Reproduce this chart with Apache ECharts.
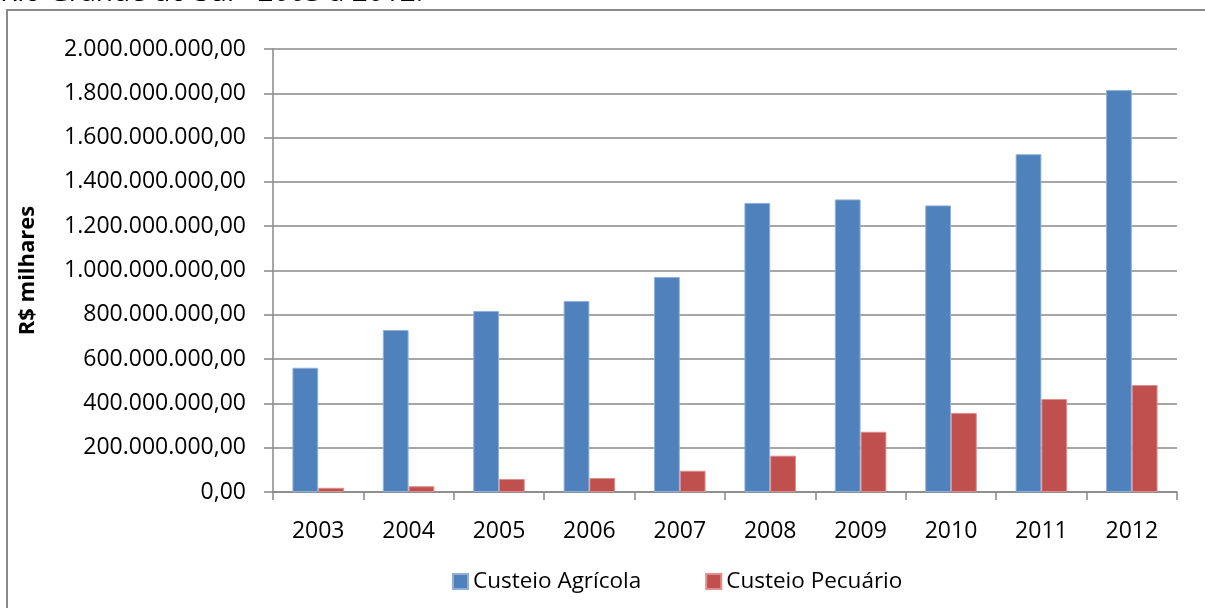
<!DOCTYPE html>
<html>
<head>
<meta charset="utf-8">
<script src="https://cdn.jsdelivr.net/npm/echarts@6/dist/echarts.min.js"></script>
<style>
  html, body { margin: 0; padding: 0; background: #fff; }
  #chart { width: 1205px; height: 608px; }
</style>
</head>
<body>
<div id="chart"></div>
<script>
const years = ['2003', '2004', '2005', '2006', '2007', '2008', '2009', '2010', '2011', '2012'];
const agricola = [561e6, 731e6, 817e6, 862e6, 971e6, 1305e6, 1321e6, 1294e6, 1525e6, 1815e6];
const pecuario = [19e6, 26e6, 59e6, 63e6, 96e6, 164e6, 272e6, 357e6, 420e6, 483e6];

const FONT = "'Open Sans', 'Noto Sans', sans-serif";

function brl(v) {
    const int = Math.round(v).toString().replace(/\B(?=(\d{3})+(?!\d))/g, '.');
    return int + ',00';
}

const chart = echarts.init(document.getElementById('chart'), null, { renderer: 'canvas' });
chart.setOption({
    backgroundColor: '#fff',
    animation: false,
    textStyle: { fontFamily: FONT, color: '#000' },
    graphic: [
        { type: 'rect', shape: { x: 7, y: 10, width: 1220, height: 620 }, style: { fill: 'none', stroke: '#8a8a8a', lineWidth: 2 } },
        { type: 'text', x: 0, y: 7, style: { text: 'Rio Grande do Sul - 2003 a 2012.', font: "28px 'Open Sans', sans-serif", fill: '#000', verticalAlign: 'bottom' } }
    ],
    grid: { left: 273, right: 28, top: 49, bottom: 116 },
    legend: {
        left: 447, top: 565,
        itemWidth: 15, itemHeight: 15, itemGap: 64, itemTextGap: 6,
        icon: 'rect',
        textStyle: { fontFamily: FONT, fontSize: 22.5, color: '#000' },
        data: ['Custeio Agrícola', 'Custeio Pecuário']
    },
    xAxis: {
        type: 'category',
        data: years,
        axisLine: { lineStyle: { color: '#888', width: 1.5 } },
        axisTick: { show: true, length: 8, lineStyle: { color: '#888', width: 1.5 } },
        axisLabel: { fontFamily: FONT, fontSize: 23, color: '#000', margin: 28 }
    },
    yAxis: {
        type: 'value',
        min: 0, max: 2e9, interval: 2e8,
        name: 'R$ milhares',
        nameLocation: 'middle',
        nameGap: 234,
        nameTextStyle: { fontFamily: FONT, fontSize: 22, fontWeight: 'bold', color: '#000' },
        axisLine: { show: true, lineStyle: { color: '#888', width: 1.5 } },
        axisTick: { show: true, length: 9, lineStyle: { color: '#888', width: 1.5 } },
        splitLine: { lineStyle: { color: '#888', width: 1.5 } },
        axisLabel: { fontFamily: FONT, fontSize: 23, color: '#000', margin: 27, formatter: brl }
    },
    series: [
        {
            name: 'Custeio Agrícola', type: 'bar', data: agricola,
            barGap: '0%', barCategoryGap: '43%',
            itemStyle: { color: '#4F81BD', borderColor: '#8fb0d8', borderWidth: 1 }
        },
        {
            name: 'Custeio Pecuário', type: 'bar', data: pecuario,
            itemStyle: { color: '#C0504D', borderColor: '#dc8f8d', borderWidth: 1 }
        }
    ]
});
</script>
</body>
</html>
